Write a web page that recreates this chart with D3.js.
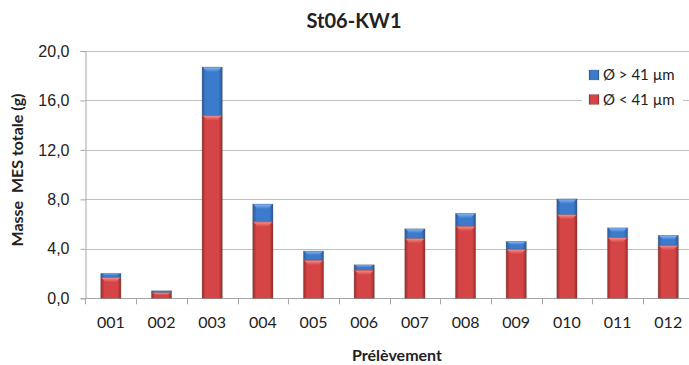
<!DOCTYPE html>
<html>
<head>
<meta charset="utf-8">
<script src="https://cdn.jsdelivr.net/npm/d3@7/dist/d3.min.js"></script>
<style>
  body { margin: 0; background: #fff; }
  svg { font-family: Lato, "Open Sans", sans-serif; }
  .tick text { fill: #222; }
</style>
</head>
<body>
<svg id="chart" width="689" height="365"></svg>
<script>
// data
var categories = ['001', '002', '003', '004', '005', '006', '007', '008', '009', '010', '011', '012']
var fine   = [1.70, 0.48, 14.8, 6.19, 3.09, 2.29, 4.85, 5.84, 3.98, 6.78, 4.92, 4.30]   // Ø < 41 µm
var coarse = [0.32, 0.13, 3.90, 1.43, 0.73, 0.42, 0.77, 1.03, 0.62, 1.26, 0.78, 0.79]   // Ø > 41 µm
var yTicks = [0, 4, 8, 12, 16, 20]
var seriesNames = ['Ø < 41 µm', 'Ø > 41 µm']

var svg = d3.select('#chart')
var pLeft = 85.5, pRight = 693.6, pTop = 51, pBottom = 298.3

var x = d3.scaleBand().domain(categories).range([pLeft, pRight]).paddingInner(0.6).paddingOuter(0.3)
var y = d3.scaleLinear().domain([0, 20]).range([pBottom, pTop])
var fmt = d3.formatLocale({decimal: ',', thousands: ' ', grouping: [3], currency: ['', '']}).format('.1f')

var palette = {
    red:  {edge: '#9a2b2b', mid: '#d64545', hi: '#f58a8a'},
    blue: {edge: '#29579a', mid: '#3c7bcc', hi: '#7db3f2'}
}

var defs = svg.append('defs')
_gradients()

function _gradients() {
    Object.keys(palette).forEach(function(k) {
        var p = palette[k]
        var g = defs.append('linearGradient').attr('id', 'body-' + k)
            .attr('x1', 0).attr('x2', 1).attr('y1', 0).attr('y2', 0)
        g.append('stop').attr('offset', '0%').attr('stop-color', p.edge)
        g.append('stop').attr('offset', '18%').attr('stop-color', p.mid)
        g.append('stop').attr('offset', '82%').attr('stop-color', p.mid)
        g.append('stop').attr('offset', '100%').attr('stop-color', p.edge)
        var h = defs.append('linearGradient').attr('id', 'hi-' + k)
            .attr('x1', 0).attr('x2', 0).attr('y1', 0).attr('y2', 1)
        h.append('stop').attr('offset', '0%').attr('stop-color', p.hi)
        h.append('stop').attr('offset', '100%').attr('stop-color', p.mid)
    })
}

// gridlines
svg.append('g').selectAll('line').data(yTicks.slice(1)).enter().append('line')
    .attr('x1', pLeft).attr('x2', 689)
    .attr('y1', function(d) { return Math.round(y(d)) + 0.5 })
    .attr('y2', function(d) { return Math.round(y(d)) + 0.5 })
    .attr('stroke', '#c0c0c0').attr('stroke-width', 1)

// y axis
var yAxis = svg.append('g').attr('transform', 'translate(' + pLeft + ',0)')
    .call(d3.axisLeft(y).tickValues(yTicks).tickFormat(fmt).tickSize(5).tickPadding(11))
yAxis.selectAll('.domain').attr('stroke', '#a6a6a6')
yAxis.selectAll('.tick line').attr('stroke', '#a6a6a6')
yAxis.selectAll('.tick text').attr('font-size', 16)
yAxis.append('line').attr('x1', 0).attr('x2', 0).attr('y1', pBottom).attr('y2', pBottom + 6).attr('stroke', '#a6a6a6')

// x axis: ticks between categories
var xg = svg.append('g')
xg.append('line').attr('x1', pLeft).attr('x2', 689)
    .attr('y1', Math.round(pBottom) + 0.5).attr('y2', Math.round(pBottom) + 0.5).attr('stroke', '#a6a6a6')
var step = x.step()
xg.selectAll('.sep').data(d3.range(1, categories.length + 1)).enter().append('line')
    .attr('class', 'sep')
    .attr('x1', function(i) { return Math.round(pLeft + i * step) + 0.5 })
    .attr('x2', function(i) { return Math.round(pLeft + i * step) + 0.5 })
    .attr('y1', pBottom).attr('y2', pBottom + 6)
    .attr('stroke', '#a6a6a6')
xg.selectAll('.lbl').data(categories).enter().append('text')
    .attr('class', 'lbl')
    .attr('x', function(d) { return x(d) + x.bandwidth() / 2 })
    .attr('y', 328).attr('text-anchor', 'middle').attr('font-size', 16).attr('fill', '#222')
    .text(function(d) { return d })

// stacked bars
var rows = categories.map(function(c, i) { return {cat: c, fine: fine[i], coarse: coarse[i]} })
var stack = d3.stack().keys(['fine', 'coarse'])(rows)
var colorKeys = ['red', 'blue']

stack.forEach(function(layer, li) {
    var k = colorKeys[li]
    var g = svg.append('g').attr('class', 'layer-' + k)
    layer.forEach(function(d) {
        var x0 = x(d.data.cat), w = x.bandwidth()
        var y0 = y(d[1]), y1 = y(d[0])
        var h = y1 - y0
        g.append('rect')
            .attr('x', x0).attr('y', y0).attr('width', w).attr('height', h)
            .attr('fill', 'url(#body-' + k + ')')
            .attr('stroke', 'rgba(90,90,90,0.35)').attr('stroke-width', 0.8)
        var b = Math.min(5, h * 0.45)
        if (b > 1) {
            g.append('polygon')
                .attr('points', [[x0 + 1, y0 + 0.5], [x0 + w - 1, y0 + 0.5], [x0 + w - 5, y0 + b], [x0 + 5, y0 + b]].join(' '))
                .attr('fill', 'url(#hi-' + k + ')')
        }
    })
})

// title and axis titles
svg.append('text').attr('x', 354).attr('y', 28).attr('text-anchor', 'middle')
    .attr('font-size', 20).attr('font-weight', 'bold').attr('fill', '#222').text('St06-KW1')
svg.append('text').attr('x', 397).attr('y', 361).attr('text-anchor', 'middle')
    .attr('font-size', 16).attr('font-weight', 'bold').attr('fill', '#222').text('Prélèvement')
svg.append('text').attr('transform', 'translate(23,170) rotate(-90)').attr('text-anchor', 'middle')
    .style('white-space', 'pre')
    .attr('font-size', 16).attr('font-weight', 'bold').attr('fill', '#222').text('Masse  MES totale (g)')

// legend
var legend = svg.append('g')
legend.append('rect').attr('x', 582).attr('y', 62).attr('width', 101).attr('height', 48).attr('fill', '#fff')
var items = [{name: seriesNames[1], k: 'blue'}, {name: seriesNames[0], k: 'red'}]
items.forEach(function(it, i) {
    var yy = 70 + i * 24.5
    legend.append('rect').attr('x', 589).attr('y', yy).attr('width', 10).attr('height', 10)
        .attr('fill', 'url(#body-' + it.k + ')').attr('stroke', 'rgba(90,90,90,0.35)').attr('stroke-width', 0.6)
    legend.append('text').attr('x', 603).attr('y', yy + 10).attr('font-size', 15).attr('fill', '#222').text(it.name)
})
</script>
</body>
</html>
